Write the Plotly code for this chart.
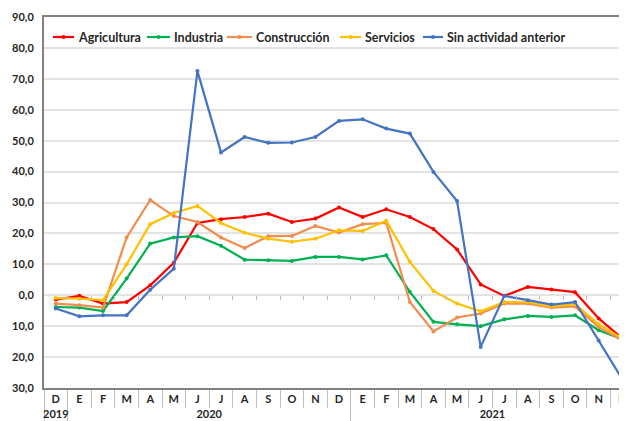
import plotly.graph_objects as go

ZW = "\u200b"  # keeps repeated month letters distinct inside one year group
years = ["2019"] + ["2020"] * 12 + ["2021"] * 12
months = ["D" + ZW * 2,
          "E", "F", "M", "A", "M" + ZW, "J", "J" + ZW, "A" + ZW, "S", "O", "N", "D",
          "E", "F", "M", "A", "M" + ZW, "J", "J" + ZW, "A" + ZW, "S", "O", "N", "D"]

agricultura = [-1.4, -0.2, -2.7, -2.2, 3.2, 10.5, 23.4, 24.6, 25.3, 26.4, 23.7, 24.8, 28.4,
               25.3, 27.8, 25.3, 21.4, 14.8, 3.5, -0.2, 2.7, 1.9, 1.0, -7.5, -14.0]
industria = [-3.8, -4.0, -5.1, 5.4, 16.7, 18.7, 19.1, 16.0, 11.5, 11.3, 11.1, 12.4, 12.4,
             11.6, 12.9, 1.1, -8.6, -9.4, -10.0, -7.8, -6.7, -7.0, -6.5, -11.3, -14.3]
construccion = [-2.7, -3.2, -4.0, 18.7, 30.8, 25.6, 23.7, 18.7, 15.3, 19.1, 19.2, 22.4, 20.3,
                23.0, 23.4, -2.2, -11.7, -7.2, -5.9, -2.7, -2.7, -4.0, -3.6, -10.3, -14.6]
servicios = [-0.9, -1.1, -1.6, 10.0, 23.0, 26.6, 28.9, 23.4, 20.2, 18.3, 17.3, 18.3, 21.0,
             20.8, 24.1, 10.8, 1.4, -2.7, -5.2, -2.2, -2.2, -3.6, -2.9, -9.4, -14.0]
sin_actividad = [-4.3, -6.8, -6.5, -6.5, 1.8, 8.6, 72.5, 46.2, 51.2, 49.3, 49.4, 51.2, 56.4,
                 56.9, 53.9, 52.3, 39.9, 30.5, -16.7, -0.2, -1.6, -3.0, -2.2, -14.6, -27.2]

y_ticks = [-30, -20, -10, 0, 10, 20, 30, 40, 50, 60, 70, 80, 90]
y_labels = ["30,0", "20,0", "10,0", "0,0", "10,0", "20,0", "30,0", "40,0",
            "50,0", "60,0", "70,0", "80,0", "90,0"]

series = [
    ("Agricultura", agricultura, "#ff0000"),
    ("Industria", industria, "#00b050"),
    ("Construcción", construccion, "#f28c4f"),
    ("Servicios", servicios, "#ffc000"),
    ("Sin actividad anterior", sin_actividad, "#4472c4"),
]

FONT = "Lato, Open Sans, sans-serif"
INK = "#262626"

# the page body keeps its default 8px margin, so the figure is laid out 8px
# smaller and everything is placed 8px up/left of where it shows on screen
OFF = 8
W, H = 627 - OFF, 421 - OFF
L, T = 44 - OFF, 17 - OFF
R, B = 0, H - (388 - OFF)

fig = go.Figure()
for name, vals, color in series:
    fig.add_trace(go.Scatter(
        x=[years, months], y=vals, name=name, mode="lines+markers",
        line=dict(color=color, width=2.2),
        marker=dict(color=color, size=4),
        showlegend=False,
    ))

# ticks sitting on the zero line, between categories
idx = list(range(len(months)))
fig.add_trace(go.Scatter(x=idx, y=[None] * len(idx), xaxis="x2", showlegend=False,
                         hoverinfo="skip"))

x_range = [-0.5, 24.2]


# screen pixel -> paper coords
def px(x):
    return (x - OFF - L) / (W - L - R)


def py(y):
    return (H - B - (y - OFF)) / (H - T - B)


# hand-made compact legend (Excel style: short line, text right after it)
legend_x = [53, 147, 227, 340, 423]
legend_len = [21, 23, 25, 21, 20]
leg_y = py(37)
for (name, _, color), x0, ln in zip(series, legend_x, legend_len):
    fig.add_shape(type="line", xref="paper", yref="paper",
                  x0=px(x0), x1=px(x0 + ln), y0=leg_y, y1=leg_y,
                  line=dict(color=color, width=2.2))
    fig.add_shape(type="circle", xref="paper", yref="paper",
                  x0=px(x0 + ln / 2 - 2), x1=px(x0 + ln / 2 + 2),
                  y0=py(39), y1=py(35), fillcolor=color, line=dict(width=0))
    fig.add_annotation(text=name, xref="paper", yref="paper",
                       x=px(x0 + ln + 2), y=leg_y, xanchor="left", yanchor="middle",
                       showarrow=False, font=dict(size=12.5, color=INK, weight="bold"))

fig.update_layout(
    width=W, height=H,
    paper_bgcolor="white", plot_bgcolor="white",
    margin=dict(l=L, r=R, t=T, b=B),
    font=dict(family=FONT, color=INK, size=11, weight="bold"),
    showlegend=False,
    xaxis=dict(
        type="multicategory", range=x_range, automargin=False,
        showline=True, linecolor="#808080", linewidth=2, mirror=True,
        ticks="outside", tickson="boundaries", ticklen=18, tickcolor="#bfbfbf",
        showdividers=True, dividercolor="#bfbfbf", dividerwidth=1,
        showgrid=False,
        tickfont=dict(size=11, color=INK, weight="bold"),
    ),
    xaxis2=dict(
        overlaying="x", anchor="free", position=0.25, range=x_range,
        tickvals=[i + 0.5 for i in idx[:-1]], showticklabels=False,
        ticks="outside", ticklen=4, tickcolor="#bfbfbf", showline=False, showgrid=False,
        zeroline=False, automargin=False,
    ),
    yaxis=dict(
        range=[-30, 90], tickvals=y_ticks, ticktext=y_labels, automargin=False,
        showline=True, linecolor="#808080", linewidth=2,
        gridcolor="#e3e3e3", gridwidth=1.5, zeroline=False,
        ticks="", ticklabelstandoff=6,
        tickfont=dict(size=11, color=INK, weight="bold"),
    ),
)

fig.write_html("out.html")
